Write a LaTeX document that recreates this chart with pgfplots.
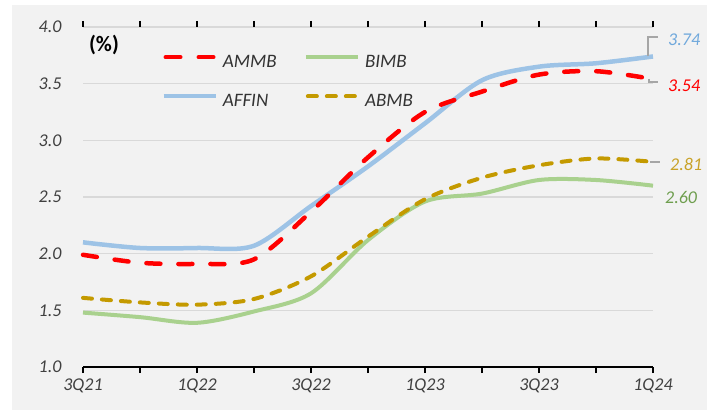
\documentclass[border=0pt]{standalone}
\usepackage{fontspec}
\setmainfont{Carlito}
\usepackage{pgfplots}
\pgfplotsset{compat=1.18}
\definecolor{bg}{HTML}{F2F2F2}
\definecolor{gridc}{HTML}{D9D9D9}
\definecolor{cred}{HTML}{FF0000}
\definecolor{cblue}{HTML}{9DC3E6}
\definecolor{cgreen}{HTML}{A9D18E}
\definecolor{cgold}{HTML}{C49A00}
\definecolor{lblue}{HTML}{6FA8DC}
\definecolor{lgreen}{HTML}{6E9E4E}
\definecolor{lgold}{HTML}{C9A227}
\definecolor{conn}{HTML}{A6A6A6}
\definecolor{tickc}{HTML}{404040}
\begin{document}
\begin{tikzpicture}[x=1pt,y=1pt]
\useasboundingbox (0,0) rectangle (711,410);
\fill[white] (0,0) rectangle (711,410);
\fill[bg] (12,0) rectangle (707,405);
\begin{axis}[
  at={(83pt,43pt)}, anchor=south west, scale only axis,
  width=570pt, height=340pt,
  xmin=0, xmax=10, ymin=1, ymax=4,
  clip=false,
  axis line style={draw=none},
  xtick={0,1,2,3,4,5,6,7,8,9,10},
  xticklabels={3Q21,,1Q22,,3Q22,,1Q23,,3Q23,,1Q24},
  ytick={1,1.5,2,2.5,3,3.5,4},
  yticklabel={\pgfmathprintnumber[fixed,fixed zerofill,precision=1]{\tick}},
  /pgf/number format/assume math mode=true,
  ticklabel style={font=\fontsize{18}{20}\selectfont\itshape, text=tickc},
  tick align=outside, major tick length=6pt,
  xtick style={black, line width=1.5pt},
  ytick style={draw=none},
  yticklabel style={xshift=-12pt},
  xticklabel style={yshift=-2pt},
  ymajorgrids, major grid style={gridc, line width=1.5pt},
  legend columns=2,
  legend cell align=left,
  legend style={at={(0.137,0.919)}, anchor=north west, draw=none, fill=none,
    inner sep=0pt, font=\fontsize{19}{21}\selectfont\itshape, text=black!80,
    row sep=22pt,
    nodes={inner sep=0pt, text height=13pt, text depth=4pt},
    /tikz/every odd column/.append style={column sep=5pt},
    /tikz/every even column/.append style={column sep=27pt}},
  legend image code/.code={\draw[#1] (0pt,6pt) -- (52pt,6pt);},
]
\addlegendimage{cred, line width=4pt, line cap=round, dash pattern=on 15pt off 18pt, dash phase=-2pt}
\addlegendentry{AMMB}
\addlegendimage{cgreen, line width=4.5pt}
\addlegendentry{BIMB}
\addlegendimage{cblue, line width=4.5pt}
\addlegendentry{AFFIN}
\addlegendimage{cgold, line width=4pt, line cap=round, dash pattern=on 9pt off 10pt, dash phase=-2pt}
\addlegendentry{ABMB}

% BIMB
\addplot[cgreen, line width=4pt, smooth, forget plot] coordinates {
 (0,1.48) (1,1.44) (2,1.39) (3,1.49) (4,1.65) (5,2.12) (6,2.46) (7,2.53) (8,2.65) (9,2.65) (10,2.60)};
% AFFIN
\addplot[cblue, line width=4.5pt, smooth, forget plot] coordinates {
 (0,2.10) (1,2.05) (2,2.05) (3,2.07) (4,2.42) (5,2.77) (6,3.15) (7,3.53) (8,3.65) (9,3.68) (10,3.74)};
% AMMB
\addplot[cred, line width=4.5pt, smooth, line cap=round, dash pattern=on 14pt off 18pt, forget plot] coordinates {
 (0,1.99) (1,1.92) (2,1.91) (3,1.95) (4,2.37) (5,2.85) (6,3.25) (7,3.43) (8,3.58) (9,3.61) (10,3.54)};
% ABMB
\addplot[cgold, line width=4pt, smooth, line cap=round, dash pattern=on 9pt off 10pt, forget plot] coordinates {
 (0,1.61) (1,1.57) (2,1.55) (3,1.60) (4,1.80) (5,2.15) (6,2.48) (7,2.67) (8,2.78) (9,2.84) (10,2.81)};

\draw[black, line width=2pt] (axis cs:0,1) -- (axis cs:10,1);
\end{axis}
\node[font=\fontsize{22}{24}\selectfont\bfseries, inner sep=0pt] at (104,365) {(\%)};
\draw[conn, line width=1.2pt] (648,353.5) -- (648,373) -- (658,373);
\draw[conn, line width=1.2pt] (649,331) -- (649,328) -- (658,328);
\draw[conn, line width=1.2pt] (650,248) -- (660,248);
\begin{scope}[every node/.style={font=\fontsize{18}{20}\selectfont\itshape, inner sep=0pt, anchor=west}]
\node[text=lblue] at (668,370) {3.74};
\node[text=cred] at (668,324) {3.54};
\node[text=lgold] at (670,246) {2.81};
\node[text=lgreen] at (665,213) {2.60};
\end{scope}
\end{tikzpicture}
\end{document}
